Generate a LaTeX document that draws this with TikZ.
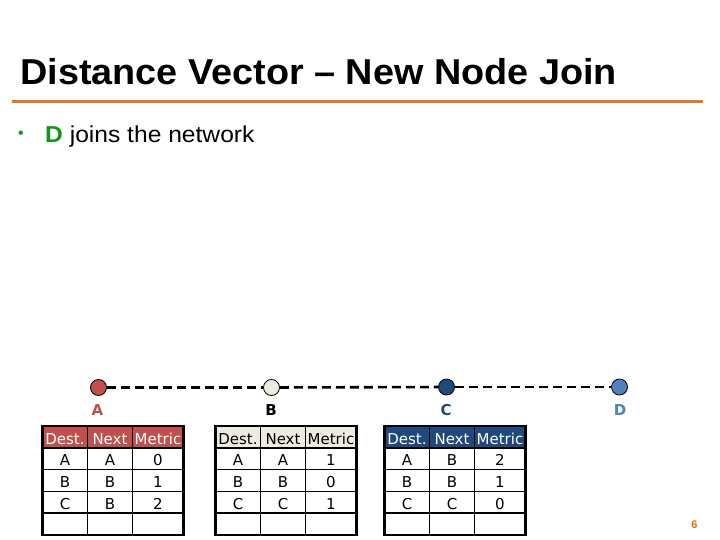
\documentclass[tikz,border=0pt]{standalone}
\usepackage{fontspec}
\setmainfont{Liberation Sans}
\newfontfamily\tabfont{DejaVu Sans}
\definecolor{orangeline}{RGB}{226,118,44}
\definecolor{numorange}{RGB}{228,108,10}
\definecolor{bulgreen}{RGB}{18,150,24}
\definecolor{ared}{RGB}{192,80,77}
\definecolor{bbeige}{RGB}{238,236,225}
\definecolor{cblue}{RGB}{31,73,125}
\definecolor{dblue}{RGB}{79,129,189}
\tikzset{
  router/.style={circle,draw=black,line width=0.8pt,minimum size=16pt,inner sep=0pt},
  rlabel/.style={font=\tabfont\bfseries\fontsize{15}{18}\selectfont,inner sep=0pt},
  cell/.style={font=\tabfont\fontsize{15}{18}\selectfont,anchor=base,inner sep=0pt},
  dashline/.style={line width=2.6pt,dash pattern=on 9pt off 5pt},
  outer/.style={line width=2.6pt},
  inner/.style={line width=1.6pt},
}
\newcommand\rtable[5]{%
  \fill[#3] (#1,426) rectangle ({#1+141},447.8);
  \node[cell,text=#4] (#2-h1) at ({#1+22.5},444) {Dest.};
  \node[cell,text=#4] (#2-h2) at ({#1+67.5},444) {Next};
  \node[cell,text=#4] (#2-h3) at ({#1+115.5},444) {Metric};
  \foreach \i/\a/\b/\c in {#5} {
    \node[cell] (#2-\i-1) at ({#1+22.5},{426+21.8*\i+18}) {\a};
    \node[cell] (#2-\i-2) at ({#1+67.5},{426+21.8*\i+18}) {\b};
    \node[cell] (#2-\i-3) at ({#1+115.5},{426+21.8*\i+18}) {\c};
  }
  \foreach \i in {1,2,3,4} {
    \draw[inner] (#1,{426+21.8*\i}) -- ({#1+141},{426+21.8*\i});
  }
  \draw[inner] ({#1+45},426) -- ({#1+45},535);
  \draw[inner] ({#1+90},426) -- ({#1+90},535);
  \draw[outer] (#1,426) rectangle ({#1+141},535);
}
\begin{document}
\begin{tikzpicture}[x=1pt,y=-1pt]
\useasboundingbox[fill=white] (0,0) rectangle (720,540);
% title
\node[anchor=base west,inner sep=0pt,font=\bfseries\fontsize{36}{40}\selectfont] (title) at (20,85)
  {\scalebox{1.05}[1]{Distance Vector -- New Node Join}};
\coordinate (l1) at (12,102);
\coordinate (l2) at (703,102);
\draw[orangeline,line width=3pt] (l1) -- (l2);
% bullet
\node[text=bulgreen,inner sep=0pt,font=\fontsize{16}{18}\selectfont] (bul) at (21,135) {•};
\node[anchor=base west,inner sep=0pt,font=\fontsize{23}{26}\selectfont] (btext) at (45,143)
  {\scalebox{1.07}[1]{\textcolor{bulgreen}{\bfseries D} joins the network}};
% routers
\node[router,fill=ared] (A) at (98.5,387.5) {};
\node[router,fill=bbeige] (B) at (271.5,387.5) {};
\node[router,fill=cblue] (C) at (446.5,387) {};
\node[router,fill=dblue] (D) at (619.5,387) {};
\draw[dashline] (A) -- (B);
\draw[dashline] (B) -- (C);
\draw[dashline] (C) -- (D);
\node[rlabel,text=ared] (la) at (97.5,410.5) {A};
\node[rlabel,text=black] (lb) at (271,410.5) {B};
\node[rlabel,text=cblue] (lc) at (446,410.5) {C};
\node[rlabel,text=dblue] (ld) at (620,410.5) {D};
% tables
\rtable{42.5}{ta}{ared}{white}{1/A/A/0,2/B/B/1,3/C/B/2}
\rtable{215.5}{tb}{bbeige}{black}{1/A/A/1,2/B/B/0,3/C/C/1}
\rtable{384.5}{tc}{cblue}{white}{1/A/B/2,2/B/B/1,3/C/C/0}
% page number
\node[text=numorange,inner sep=0pt,font=\bfseries\fontsize{11}{13}\selectfont] (pg) at (694.5,525) {6};
\end{tikzpicture}
\end{document}
